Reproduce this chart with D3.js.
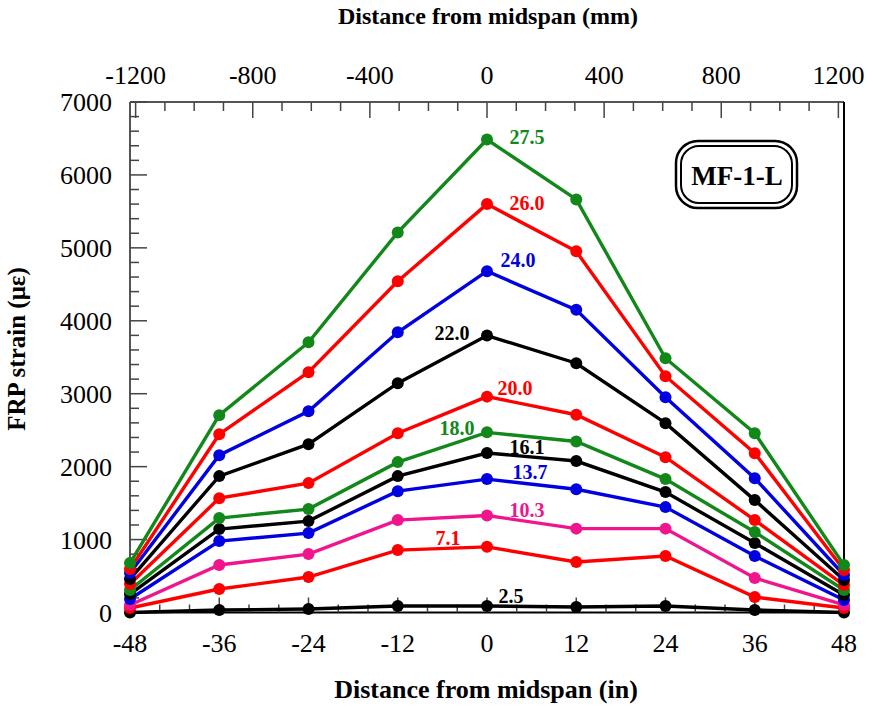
<!DOCTYPE html>
<html><head><meta charset="utf-8">
<script src="https://cdn.jsdelivr.net/npm/d3@7"></script>
<style>body{margin:0;background:#fff}</style>
</head><body>
<svg id="c" width="873" height="708"></svg>
<script>
// ---- data ----
const positionsIn = [-48, -36, -24, -12, 0, 12, 24, 36, 48];
const loads = ["2.5", "7.1", "10.3", "13.7", "16.1", "18.0", "20.0", "22.0", "24.0", "26.0", "27.5"];
const s2_5  = [0, 34, 48, 89, 89, 75, 89, 34, 0];
const s7_1  = [62, 322, 486, 856, 900, 692, 774, 212, 62];
const s10_3 = [103, 651, 801, 1267, 1330, 1150, 1150, 473, 103];
const s13_7 = [185, 979, 1089, 1664, 1829, 1690, 1445, 774, 171];
const s16_1 = [253, 1144, 1253, 1870, 2187, 2077, 1651, 952, 240];
const s18_0 = [308, 1295, 1418, 2062, 2470, 2345, 1829, 1103, 308];
const s20_0 = [390, 1568, 1774, 2459, 2960, 2712, 2130, 1267, 377];
const s22_0 = [459, 1870, 2308, 3144, 3797, 3418, 2596, 1541, 445];
const s24_0 = [541, 2157, 2760, 3842, 4680, 4150, 2952, 1842, 514];
const s26_0 = [596, 2445, 3295, 4541, 5600, 4952, 3240, 2185, 582];
const s27_5 = [678, 2705, 3705, 5212, 6486, 5664, 3486, 2459, 650];
const seriesValues = [s2_5, s7_1, s10_3, s13_7, s16_1, s18_0, s20_0, s22_0, s24_0, s26_0, s27_5];
const bottomTicks = [-48, -36, -24, -12, 0, 12, 24, 36, 48];
const topTicks = [-1200, -800, -400, 0, 400, 800, 1200];
const yTicks = [0, 1000, 2000, 3000, 4000, 5000, 6000, 7000];
const specimen = "MF-1-L";

// ---- styles ----
const G = "#12871a", R = "#ff0000", B = "#0000e0", K = "#000000", M = "#f0158c";
const colors = [K, R, M, B, K, G, R, K, B, R, G];
// label offsets (px) relative to midspan point
const labelOff = [[24,-3],[-39,-2],[40,1],[43,0],[40,1],[-30,3],[28,-2],[-35,4],[31,-4],[40,6],[40,5]];

const svg = d3.select("#c");
const L = 130, Rt = 844, T = 102, Bt = 612.5;
const x = d3.scaleLinear().domain([-48, 48]).range([L, Rt]);
const xTop = d3.scaleLinear().domain([-48 * 25.4, 48 * 25.4]).range([L, Rt]);
const y = d3.scaleLinear().domain([0, 7000]).range([Bt, T]);
const serif = "'Liberation Serif','Times New Roman',serif";

// axes lines
const ax = svg.append("g");
ax.append("line").attr("x1", L).attr("x2", L).attr("y1", T).attr("y2", Bt).attr("stroke", "#555").attr("stroke-width", 2);
ax.append("line").attr("x1", L).attr("x2", Rt).attr("y1", T).attr("y2", T).attr("stroke", "#555").attr("stroke-width", 2);
ax.append("line").attr("x1", L).attr("x2", Rt).attr("y1", Bt).attr("y2", Bt).attr("stroke", "#000").attr("stroke-width", 2);
ax.append("line").attr("x1", Rt).attr("x2", Rt).attr("y1", T).attr("y2", Bt).attr("stroke", "#000").attr("stroke-width", 2);

// left ticks
const yMinor = d3.range(0, 7001, 200);
ax.selectAll(".yt").data(yMinor).join("line")
  .attr("x1", L).attr("x2", d => L + (d % 1000 === 0 ? 17 : 9))
  .attr("y1", d => y(d)).attr("y2", d => y(d)).attr("stroke", "#444").attr("stroke-width", 1.5);
ax.selectAll(".yl").data(yTicks).join("text")
  .attr("x", 112).attr("y", d => y(d)).attr("dy", "0.35em").attr("text-anchor", "end")
  .attr("font-family", serif).attr("font-size", 26).text(d => d);

// bottom ticks
const xMinor = d3.range(-48, 49, 4);
ax.selectAll(".xt").data(xMinor).join("line")
  .attr("x1", d => x(d)).attr("x2", d => x(d))
  .attr("y1", Bt).attr("y2", d => Bt - (d % 12 === 0 ? 15 : 8)).attr("stroke", "#444").attr("stroke-width", 1.5);
ax.selectAll(".xl").data(bottomTicks).join("text")
  .attr("x", d => x(d)).attr("y", 652).attr("text-anchor", "middle")
  .attr("font-family", serif).attr("font-size", 26).text(d => d);

// top ticks
const tMinor = d3.range(-1200, 1201, 100);
ax.selectAll(".tt").data(tMinor).join("line")
  .attr("x1", d => xTop(d)).attr("x2", d => xTop(d))
  .attr("y1", T).attr("y2", d => T + (d % 400 === 0 ? 16 : 9)).attr("stroke", "#444").attr("stroke-width", 1.5);
ax.selectAll(".tl").data(topTicks).join("text")
  .attr("x", d => xTop(d)).attr("y", 84).attr("text-anchor", "middle")
  .attr("font-family", serif).attr("font-size", 26).text(d => d);

// titles
svg.append("text").attr("x", 488).attr("y", 24).attr("text-anchor", "middle")
  .attr("font-family", serif).attr("font-weight", "bold").attr("font-size", 24).text("Distance from midspan (mm)");
svg.append("text").attr("x", 486).attr("y", 698).attr("text-anchor", "middle")
  .attr("font-family", serif).attr("font-weight", "bold").attr("font-size", 26).text("Distance from midspan (in)");
svg.append("text").attr("transform", "translate(25,349) rotate(-90)").attr("text-anchor", "middle")
  .attr("font-family", serif).attr("font-weight", "bold").attr("font-size", 25).text("FRP strain (με)");

// series
const line = d3.line().x((d, i) => x(positionsIn[i])).y(d => y(d));
const sg = svg.append("g");
seriesValues.forEach((vals, k) => {
  const g = sg.append("g");
  g.append("path").attr("d", line(vals)).attr("fill", "none").attr("stroke", colors[k]).attr("stroke-width", 3.4);
  g.selectAll("circle").data(vals).join("circle")
    .attr("cx", (d, i) => x(positionsIn[i])).attr("cy", d => y(d)).attr("r", 6).attr("fill", colors[k]);
});
// labels
seriesValues.forEach((vals, k) => {
  const mid = positionsIn.indexOf(0);
  svg.append("text").attr("x", x(0) + labelOff[k][0]).attr("y", y(vals[mid]) + labelOff[k][1])
    .attr("text-anchor", "middle").attr("font-family", serif).attr("font-weight", "bold")
    .attr("font-size", 20).attr("fill", colors[k]).text(loads[k]);
});

// specimen box
const bx = svg.append("g");
bx.append("rect").attr("x", 676).attr("y", 141).attr("width", 121).attr("height", 67).attr("rx", 22)
  .attr("fill", "none").attr("stroke", "#000").attr("stroke-width", 2.5);
bx.append("rect").attr("x", 681).attr("y", 146).attr("width", 111).attr("height", 57).attr("rx", 18)
  .attr("fill", "none").attr("stroke", "#000").attr("stroke-width", 2);
bx.append("text").attr("x", 737).attr("y", 185).attr("text-anchor", "middle")
  .attr("font-family", serif).attr("font-weight", "bold").attr("font-size", 27).text(specimen);
</script>
</body></html>
